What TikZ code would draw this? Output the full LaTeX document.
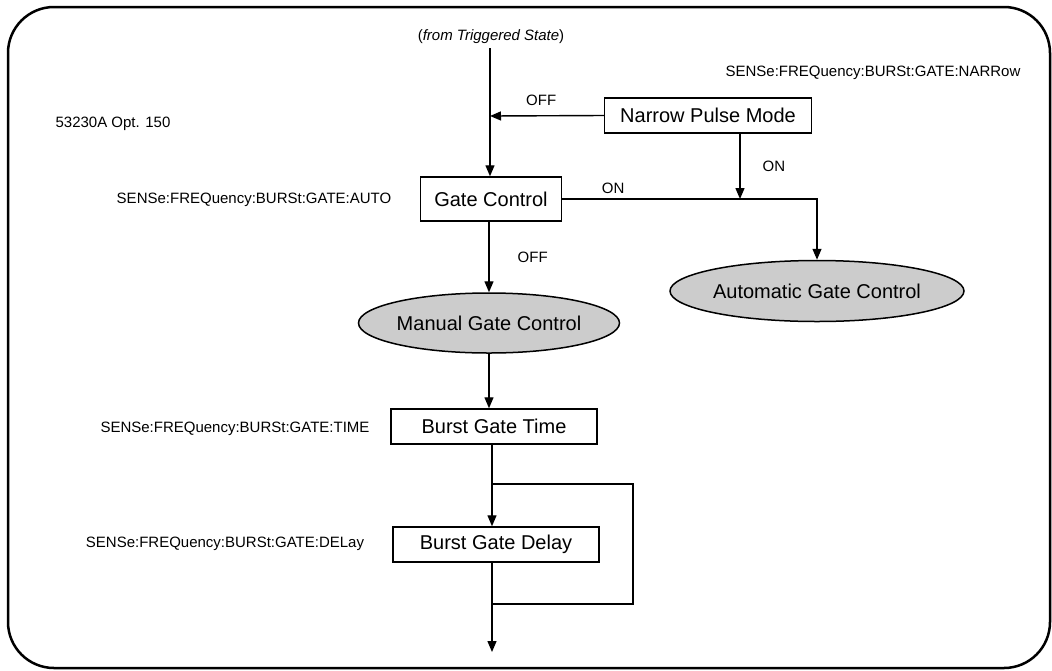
\documentclass[tikz,border=0pt]{standalone}
\usepackage{fontspec}
\setmainfont{Liberation Sans}
\usetikzlibrary{arrows.meta,shapes.geometric}
\definecolor{ellfill}{HTML}{CCCCCC}
\begin{document}
\begin{tikzpicture}[x=1pt,y=-1pt,
  statebox/.style={draw, line width=1.5pt, inner sep=0pt, font=\fontsize{20}{24}\selectfont},
  stateell/.style={ellipse, draw, fill=ellfill, line width=1.5pt, inner sep=0pt, font=\fontsize{20}{24}\selectfont},
  lbl/.style={font=\fontsize{15}{18}\selectfont, inner sep=0pt},
  conn/.style={line width=1.4pt},
  arr/.style={conn, -{Triangle[length=11pt,width=9pt]}},
  frame/.style={line width=2.5pt, rounded corners=46pt}]
\useasboundingbox (0,0) rectangle (1052,670);
\draw[frame] (8,7) rectangle (1050,668);

% texts
\node[lbl] (trig) at (491,37) {(\textit{from Triggered State})};
\node[lbl] (narrowcmd) at (873,73) {SENSe:FREQuency:BURSt:GATE:NARRow};
\node[lbl] (opt) at (113,124) {53230A Opt. 150};
\node[lbl] (autocmd) at (254,200) {SENSe:FREQuency:BURSt:GATE:AUTO};
\node[lbl] (timecmd) at (235,429) {SENSe:FREQuency:BURSt:GATE:TIME};
\node[lbl] (delaycmd) at (225,544) {SENSe:FREQuency:BURSt:GATE:DELay};

% states
\node[statebox, minimum width=207pt, minimum height=35pt] (narrow) at (708,115.5) {Narrow Pulse Mode};
\node[statebox, minimum width=141pt, minimum height=44pt] (gate) at (491,199) {Gate Control};
\node[stateell, minimum width=226pt, minimum height=60pt] (manual) at (489,323) {Manual Gate Control};
\node[stateell, minimum width=228pt, minimum height=61pt] (auto) at (817,291) {Automatic Gate Control};
\node[statebox, minimum width=206pt, minimum height=35pt] (bgt) at (494,426.5) {Burst Gate Time};
\node[statebox, minimum width=206pt, minimum height=35pt] (bgd) at (496,544.5) {Burst Gate Delay};

% coordinates
\coordinate (top) at (490,48);
\coordinate (j1) at (490,116);
\coordinate (j2) at (740,199);
\coordinate (bx) at (492,0);
\coordinate (lt) at (492,484);
\coordinate (lr) at (633,604);
\coordinate (lb) at (492,604);
\coordinate (endpt) at (492,652);

% connectors
\draw[arr] (top) -- (gate.north -| top);
\draw[arr] (narrow.west) -- (j1) node[lbl, pos=0.55, above=9pt] {OFF};
\draw[arr] (narrow.south -| j2) -- (j2) node[lbl, midway, right=22pt] {ON};
\draw[arr] (gate.east) -| (auto.north) node[lbl, pos=0.1, above=5pt] {ON};
\draw[arr] (gate.south -| manual.north) -- (manual.north) node[lbl, midway, right=28pt] {OFF};
\draw[arr] (manual.south) -- (manual.south |- bgt.north);
\draw[arr] (bgt.south -| bx) -- (bgd.north -| bx);
\draw[conn] (lt) -| (lr) -- (lb);
\draw[arr] (bgd.south -| bx) -- (endpt);
\end{tikzpicture}
\end{document}
